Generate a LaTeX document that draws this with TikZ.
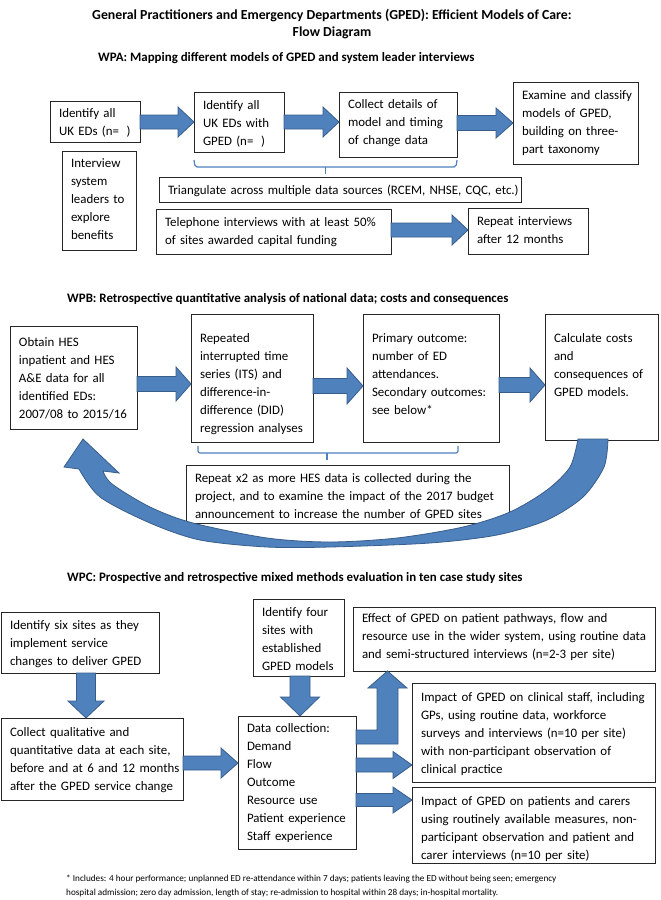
\documentclass[tikz,border=0pt]{standalone}
\usepackage{fontspec}
\setmainfont{Carlito}
\usetikzlibrary{calc}
\definecolor{arrfill}{RGB}{79,129,189}
\definecolor{arrdraw}{RGB}{56,93,138}
\tikzset{
 box/.style={draw=black!85, line width=0.8pt, fill=white, anchor=north west, inner xsep=9pt, inner ysep=0pt, outer sep=0pt, font=\fontsize{12.9}{18}\selectfont},
 blockarr/.style={fill=arrfill, draw=arrdraw, line width=0.8pt, line join=miter},
 bracket/.style={draw=arrfill, line width=1.2pt, rounded corners=2pt},
 hdr/.style={anchor=base west, inner sep=0pt, font=\fontsize{12.9}{15}\selectfont\bfseries},
 ttl/.style={anchor=base, inner sep=0pt, font=\fontsize{13.8}{16}\selectfont\bfseries},
 foot/.style={anchor=base west, inner sep=0pt, font=\fontsize{9.2}{14}\selectfont},
}
\newcommand\bx[7]{%
 \pgfmathsetlengthmacro\bxtw{#4-18}%
 \pgfmathsetlengthmacro\bxtd{#5-#6}%
 \node[box, text width=\bxtw, text height=#6pt, text depth=\bxtd] (#1) at (#2,#3)
   {\begin{tabular}[t]{@{}l@{}}#7\end{tabular}};}
\newcommand\harr[6]{%
 \path[blockarr] let \p1=(#1), \p2=(#2), \p3=(0,#3) in
 (\x1,\y3+#4pt/2) -- (\x2-#6pt,\y3+#4pt/2) -- (\x2-#6pt,\y3+#5pt/2) -- (\x2,\y3)
 -- (\x2-#6pt,\y3-#5pt/2) -- (\x2-#6pt,\y3-#4pt/2) -- (\x1,\y3-#4pt/2) -- cycle;}
\newcommand\varr[6]{%
 \path[blockarr] let \p1=(#1), \p2=(#2), \p3=(#3,0) in
 (\x3-#4pt/2,\y1) -- (\x3-#4pt/2,\y2+#6pt) -- (\x3-#5pt/2,\y2+#6pt) -- (\x3,\y2)
 -- (\x3+#5pt/2,\y2+#6pt) -- (\x3+#4pt/2,\y2+#6pt) -- (\x3+#4pt/2,\y1) -- cycle;}
\begin{document}
\begin{tikzpicture}[x=1pt,y=-1pt]
\useasboundingbox (0,0) rectangle (661,900);
\fill[white] (0,0) rectangle (661,900);

% titles
\node[ttl] (t1) at (332,19) {General Practitioners and Emergency Departments (GPED): Efficient Models of Care:};
\node[ttl] (t2) at (332,36) {Flow Diagram};

% ---------- WPA
\node[hdr] (ha) at (98,61.5) {WPA: Mapping different models of GPED and system leader interviews};
\bx{A1}{50}{101}{90}{41}{16.5}{Identify all\\UK EDs (n=\hspace{0.6em})}
\bx{A2}{194}{92}{90}{60}{17.5}{Identify all\\UK EDs with\\GPED (n=\hspace{0.6em})}
\bx{A3}{339}{92}{118}{65}{16.5}{Collect details of\\model and timing\\of change data}
\bx{A4}{513}{82}{125}{82}{17.5}{Examine and classify\\models of GPED,\\building on three-\\part taxonomy}
\bx{Aint}{62}{151}{74}{99}{16.5}{Interview\\system\\leaders to\\explore\\benefits}
\bx{Atri}{159}{177}{362}{25}{17.5}{Triangulate across multiple data sources (RCEM, NHSE, CQC, etc.)}
\bx{Atel}{156}{209}{235}{45}{17.5}{Telephone interviews with at least 50\%\\of sites awarded capital funding}
\bx{Arep}{468}{208}{120}{46}{17.5}{Repeat interviews\\after 12 months}
\harr{A1.east}{A2.west}{122}{14}{30}{16}
\harr{A2.east}{A3.west}{122}{14}{30}{16}
\harr{A3.east}{A4.west}{123}{15}{30}{17}
\harr{Atel.east}{Arep.west}{230}{14}{30}{16}
\draw[bracket] (A2.west |- 0,160) -- (195,167) -- (456,167) -- (A3.east |- 0,160);
\draw[bracket, rounded corners=0pt] (325.5,167) -- (325.5,174);

% ---------- WPB
\node[hdr] (hb) at (67,302.5) {WPB: Retrospective quantitative analysis of national data; costs and consequences};
\bx{B1}{10}{326}{127}{103}{20.5}{Obtain HES\\inpatient and HES\\A\&E data for all\\identified EDs:\\2007/08 to 2015/16}
\bx{B2}{191}{314}{122}{128}{28.5}{Repeated\\interrupted time\\series (ITS) and\\difference-in-\\difference (DID)\\regression analyses}
\bx{B3}{363}{314}{136}{128}{28.5}{Primary outcome:\\number of ED\\attendances.\\Secondary outcomes:\\see below*}
\bx{B4}{545}{314}{113}{126}{28.5}{Calculate costs\\and\\consequences of\\GPED models.}
\bx{Brep}{186}{465}{323}{58}{17.5}{Repeat x2 as more HES data is collected during the\\project, and to examine the impact of the 2017 budget\\announcement to increase the number of GPED sites}
\harr{B1.east}{B2.west}{384}{15}{34}{15}
\harr{B2.east}{B3.west}{386}{15}{36}{16}
\harr{B3.east}{B4.west}{385}{15}{34}{15}
\draw[bracket] (198,446) -- (198,453) -- (458,453) -- (458,446);
\draw[bracket, rounded corners=0pt] (327,453) -- (327,460);
% curved return arrow
\path[blockarr] (64,467) -- (83,439) -- (119,473) -- (103,471)
 -- plot[smooth] coordinates {(103,471) (112,484) (150,507) (193,523) (267,538) (330,542) (397,538) (463,527) (510,512) (547,490) (570,467) (578,439)}
 -- plot[smooth] coordinates {(608,439) (604,467) (583,497) (547,520) (497,535) (430,543) (330,547) (267,547) (200,540) (150,523) (100,497) (79,469)}
 -- cycle;

% ---------- WPC
\node[hdr] (hc) at (67,581.5) {WPC: Prospective and retrospective mixed methods evaluation in ten case study sites};
\bx{C1}{1}{612}{158}{61}{17.5}{Identify six sites as they\\implement service\\changes to deliver GPED}
\bx{C2}{1}{718}{182}{82}{18.5}{Collect qualitative and\\quantitative data at each site,\\before and at 6 and 12 months\\after the GPED service change}
\bx{C3}{253}{599}{91}{77}{17.5}{Identify four\\sites with\\established\\GPED models}
\bx{C4}{238}{716}{118}{133}{16.5}{Data collection:\\Demand\\Flow\\Outcome\\Resource use\\Patient experience\\Staff experience}
\bx{C5}{353}{607}{302}{64}{15.5}{Effect of GPED on patient pathways, flow and\\resource use in the wider system, using routine data\\and semi-structured interviews (n=2-3 per site)}
\bx{C6}{412}{683}{243}{99}{18.5}{Impact of GPED on clinical staff, including\\GPs, using routine data, workforce\\surveys and interviews (n=10 per site)\\with non-participant observation of\\clinical practice}
\bx{C7}{412}{787}{243}{76}{18.5}{Impact of GPED on patients and carers\\using routinely available measures, non-\\participant observation and patient and\\carer interviews (n=10 per site)}
\varr{C1.south}{C2.north}{86}{19}{36}{17}
\varr{C3.south}{C4.north}{300}{20}{39}{19}
\harr{C2.east}{C4.west}{763}{14}{30}{17}
\harr{C4.east}{C6.west}{765}{14}{27}{19}
\harr{C4.east}{C7.west}{800}{13}{26}{19}
\path[blockarr] (C4.east |- 0,730) -- (377,730) -- (377,688) -- (368,688) -- (387.5,0 |- C5.south) -- (407,688) -- (398,688) -- (398,744) -- (C4.east |- 0,744) -- cycle;

% footnote
\node[foot] (fn1) at (66,881) {* Includes: 4 hour performance; unplanned ED re-attendance within 7 days; patients leaving the ED without being seen; emergency};
\node[foot] (fn2) at (66,895) {hospital admission; zero day admission, length of stay; re-admission to hospital within 28 days; in-hospital mortality.};
\end{tikzpicture}
\end{document}
